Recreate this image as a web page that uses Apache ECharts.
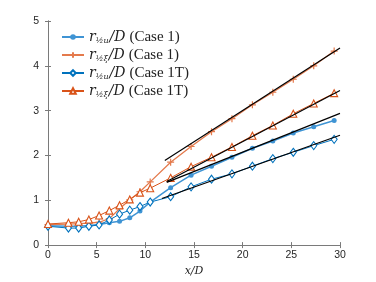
<!DOCTYPE html>
<html><head><meta charset="utf-8">
<script src="https://cdn.jsdelivr.net/npm/echarts@6/dist/echarts.min.js"></script>
<style>html,body{margin:0;padding:0;background:#fff}#c{width:376px;height:282px}</style>
</head><body><div id="c"></div>
<script>
const xPos = [0, 2.1, 3.15, 4.2, 5.25, 6.3, 7.35, 8.4, 9.45, 10.5, 12.6, 14.7, 16.8, 18.9, 21.0, 23.1, 25.2, 27.3, 29.4];
const u1   = [0.43, 0.42, 0.42, 0.44, 0.46, 0.50, 0.53, 0.61, 0.76, 0.96, 1.28, 1.56, 1.76, 1.96, 2.16, 2.32, 2.50, 2.64, 2.78];
const xi1  = [0.46, 0.47, 0.48, 0.49, 0.51, 0.59, 0.81, 1.01, 1.19, 1.41, 1.85, 2.20, 2.53, 2.82, 3.13, 3.41, 3.70, 4.00, 4.33];
const u1T  = [0.42, 0.38, 0.38, 0.42, 0.45, 0.56, 0.69, 0.78, 0.86, 0.96, 1.08, 1.30, 1.47, 1.59, 1.76, 1.93, 2.07, 2.22, 2.36];
const xi1T = [0.47, 0.50, 0.52, 0.57, 0.66, 0.77, 0.89, 1.02, 1.17, 1.27, 1.50, 1.75, 1.96, 2.19, 2.44, 2.67, 2.93, 3.16, 3.39];
// black linear fits: [x0, y0, x1, y1]
const fitXi1  = [12.0, 1.89, 30, 4.40];
const fitXi1T = [12.2, 1.42, 30, 3.45];
const fitU1   = [12.2, 1.40, 30, 2.94];
const fitU1T  = [11.7, 1.04, 30, 2.45];
const xTicks = [0, 5, 10, 15, 20, 25, 30];
const yTicks = [0, 1, 2, 3, 4, 5];
const legendNames = ['u1', 'xi1', 'u1T', 'xi1T'];
const legendSub = {u1: '½u', xi1: '½ξ', u1T: '½u', xi1T: '½ξ'};
const legendCase = {u1: '(Case 1)', xi1: '(Case 1)', u1T: '(Case 1T)', xi1T: '(Case 1T)'};

const pts = (ys) => ys.map((y, i) => [xPos[i], y]);
const fit = (f) => [[f[0], f[1]], [f[2], f[3]]];
const plusPath = 'path://M5,0 L5,10 M0,5 L10,5';

const cU1 = '#3f94d4', cXi1 = '#e47a4c', cU1T = '#0072BD', cXi1T = '#D95319';

const chart = echarts.init(document.getElementById('c'), null, {renderer: 'canvas'});
const axisCol = '#7a7a7a';
const fitSeries = (f) => ({type: 'line', data: fit(f), symbol: 'none', lineStyle: {color: '#000', width: 1.2}, z: 5, silent: true});
chart.setOption({
  animation: false,
  grid: {left: 48, right: 36, top: 21, bottom: 36},
  legend: {
    data: legendNames, orient: 'vertical', left: 56, top: 24, itemGap: 2,
    itemWidth: 22, itemHeight: 7,
    formatter: (n) => '{i|r}{s|' + legendSub[n] + '}{i|/D} {n|' + legendCase[n] + '}',
    textStyle: {
      fontSize: 14, lineHeight: 16,
      rich: {
        i: {fontFamily: 'DejaVu Serif', fontStyle: 'italic', fontSize: 14, color: '#222'},
        s: {fontFamily: 'DejaVu Serif', fontStyle: 'italic', fontSize: 8, color: '#222', padding: [7, 1, 0, 0]},
        n: {fontFamily: 'Liberation Serif', fontSize: 15, color: '#222'}
      }
    }
  },
  xAxis: [{
    type: 'value', min: 0, max: 30, interval: 5,
    name: 'x/D', nameLocation: 'middle', nameGap: 18,
    nameTextStyle: {fontFamily: 'DejaVu Serif', fontStyle: 'italic', fontSize: 11, color: '#222'},
    axisLine: {show: true, onZero: false, lineStyle: {color: axisCol, width: 1}},
    axisTick: {show: true, inside: true, length: 3, lineStyle: {color: axisCol}},
    axisLabel: {color: '#262626', fontSize: 10.5, fontFamily: 'Liberation Sans', margin: 5,
      formatter: (v) => xTicks.includes(v) ? String(v) : ''},
    splitLine: {show: false}
  }, {
    type: 'value', position: 'top', min: 0, max: 30, interval: 5,
    axisLine: {show: true, lineStyle: {color: axisCol, width: 1}},
    axisTick: {show: true, inside: true, length: 3, lineStyle: {color: axisCol}},
    axisLabel: {show: false}, splitLine: {show: false}
  }],
  yAxis: [{
    type: 'value', min: 0, max: 5, interval: 1,
    axisLine: {show: true, onZero: false, lineStyle: {color: axisCol, width: 1}},
    axisTick: {show: true, inside: true, length: 3, lineStyle: {color: axisCol}},
    axisLabel: {color: '#262626', fontSize: 10.5, fontFamily: 'Liberation Sans', margin: 9,
      formatter: (v) => yTicks.includes(v) ? String(v) : ''},
    splitLine: {show: false}
  }, {
    type: 'value', position: 'right', min: 0, max: 5, interval: 1,
    axisLine: {show: true, lineStyle: {color: axisCol, width: 1}},
    axisTick: {show: true, inside: true, length: 3, lineStyle: {color: axisCol}},
    axisLabel: {show: false}, splitLine: {show: false}
  }],
  series: [
    {name: 'u1', type: 'line', data: pts(u1), symbol: 'circle', symbolSize: 5,
      lineStyle: {color: cU1, width: 1.5}, itemStyle: {color: cU1}, z: 3},
    {name: 'xi1', type: 'line', data: pts(xi1), symbol: plusPath, symbolSize: 7,
      lineStyle: {color: cXi1, width: 1.3}, itemStyle: {color: 'none', borderColor: cXi1, borderWidth: 1.2}, z: 3},
    {name: 'u1T', type: 'line', data: pts(u1T), symbol: 'diamond', symbolSize: [6, 8],
      lineStyle: {color: cU1T, width: 1}, itemStyle: {color: '#fff', borderColor: cU1T, borderWidth: 1.1}, z: 4},
    {name: 'xi1T', type: 'line', data: pts(xi1T), symbol: 'triangle', symbolSize: 7,
      lineStyle: {color: cXi1T, width: 1}, itemStyle: {color: '#fff', borderColor: cXi1T, borderWidth: 1.1}, z: 4},
    fitSeries(fitXi1), fitSeries(fitXi1T), fitSeries(fitU1), fitSeries(fitU1T)
  ]
});
</script></body></html>
